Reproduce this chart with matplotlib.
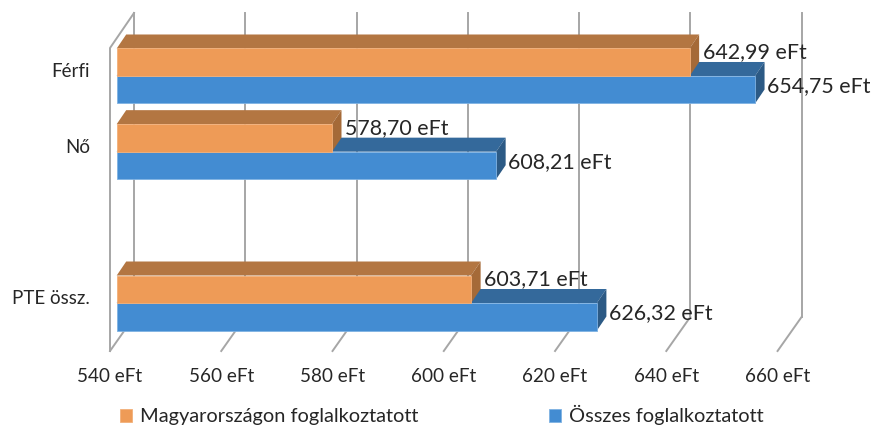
import numpy as np
import matplotlib
matplotlib.use('Agg')
import matplotlib.pyplot as plt
from matplotlib.patches import Polygon

plt.rcParams['font.family'] = ['Lato', 'DejaVu Sans']

categories = ['PTE össz.', '', 'Nő', 'Férfi']
hungary = [603.71, None, 578.70, 642.99]
total = [626.32, None, 608.21, 654.75]
ticks = [540, 560, 580, 600, 620, 640, 660]
series_names = ['Magyarországon foglalkoztatott', 'Összes foglalkoztatott']

ORANGE = ['#EE9B57', '#B37642', '#A56A38']
BLUE = ['#438CD2', '#34699B', '#2C5A85']
GRID = '#A6A6A6'
TEXT = '#262626'

W, H = 873, 426
X0 = 116.7     # pixel of 540 on the bars' front plane
SX = 5.563     # pixels per eFt
Y0 = 303.0     # pixel of the first category
SY = 75.67     # pixels per category
BAR_H = 27.5 / SY
DEPTH_X = 9.5 / SX
DEPTH_Y = 14.0 / SY

def yp(p):
    return (Y0 - p) / SY

def xo(p):
    return p / SX

def box(ax, y, h, v, cols, z):
    # top and side face of one bar, front is a normal barh
    top = [(540, y + h / 2), (540 + DEPTH_X, y + h / 2 + DEPTH_Y),
           (v + DEPTH_X, y + h / 2 + DEPTH_Y), (v, y + h / 2)]
    side = [(v, y + h / 2), (v + DEPTH_X, y + h / 2 + DEPTH_Y),
            (v + DEPTH_X, y - h / 2 + DEPTH_Y), (v, y - h / 2)]
    ax.add_patch(Polygon(top, closed=True, fc=cols[1], ec='none', zorder=z))
    ax.add_patch(Polygon(side, closed=True, fc=cols[2], ec='none', zorder=z))

def label(v):
    return ('%.2f' % v).replace('.', ',') + ' eFt'

fig = plt.figure(figsize=(W / 100, H / 100), dpi=100)
ax = fig.add_axes([0, 0, 1, 1])
ax.set_xlim(540 - X0 / SX, 540 + (W - X0) / SX)
ax.set_ylim(yp(H), yp(0))
ax.axis('off')

# walls and floor
for t in ticks:
    x = t - xo(6.7)
    ax.plot([x + xo(24), x + xo(24)], [yp(13), yp(317)], color=GRID, lw=1.4, zorder=1)
    ax.plot([x, x + xo(24)], [yp(351), yp(317)], color=GRID, lw=1.4, zorder=1)
    ax.text(t - xo(6.7), yp(377), '%d eFt' % t, ha='center', va='center',
            fontsize=13.6, color=TEXT)
left = 540 - xo(6.7)
ax.plot([left, left, left + xo(24)], [yp(351), yp(48), yp(13)], color=GRID, lw=1.4, zorder=1)

# bars
handles = []
for i, name in enumerate(categories):
    if hungary[i] is None:
        continue
    y_blue = i - BAR_H / 2
    y_orange = i + BAR_H / 2
    box(ax, y_blue, BAR_H, total[i], BLUE, 2)
    b1 = ax.barh(y_blue, total[i] - 540, left=540, height=BAR_H, color=BLUE[0],
                 edgecolor='#7FB2E3', linewidth=0.6, zorder=3)
    box(ax, y_orange, BAR_H, hungary[i], ORANGE, 4)
    b2 = ax.barh(y_orange, hungary[i] - 540, left=540, height=BAR_H, color=ORANGE[0],
                 edgecolor='#F2B07A', linewidth=0.6, zorder=5)
    handles = [b2, b1]
    ax.text(hungary[i] + xo(13), y_orange + 10 / SY, label(hungary[i]), ha='left',
            va='center', fontsize=15.4, color=TEXT, zorder=6)
    ax.text(total[i] + xo(12), y_blue + 3.5 / SY, label(total[i]), ha='left',
            va='center', fontsize=15.4, color=TEXT, zorder=6)
    ax.text(xo(90 - X0) + 540, i + 4 / SY, name, ha='right', va='center',
            fontsize=13.5, color=TEXT)

ax.legend(handles, series_names, ncol=2, frameon=False, loc='center left',
          bbox_to_anchor=(120 / W, 1 - 415 / H), fontsize=14.4, handlelength=0.62,
          handleheight=0.62, handletextpad=0.4, columnspacing=6.5, labelcolor=TEXT,
          borderpad=0, borderaxespad=0)

fig.savefig('out.png', dpi=100)
